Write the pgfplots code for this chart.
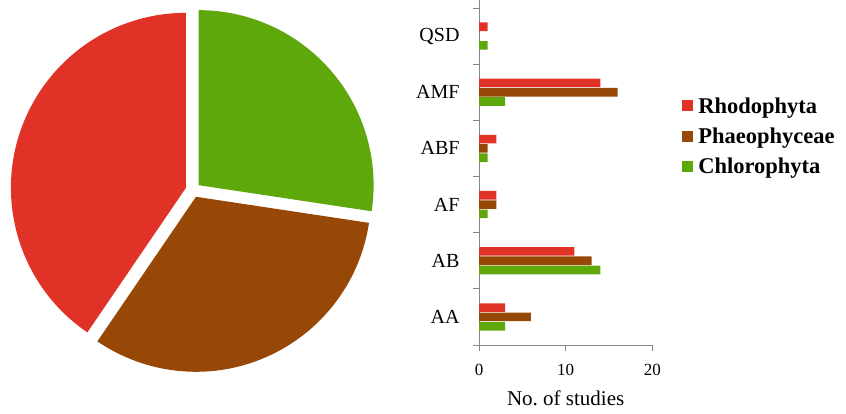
\documentclass[border=0pt]{standalone}
\usepackage{fontspec}
\setmainfont{Liberation Serif}
\usepackage{pgfplots}
\pgfplotsset{compat=1.18}
\usepackage{pgfplotstable}

\definecolor{cR}{RGB}{224,50,38}
\definecolor{cB}{RGB}{151,72,7}
\definecolor{cG}{RGB}{94,168,12}
\definecolor{axgray}{RGB}{134,134,134}

% studies per group (pie), clockwise from 12 o'clock
\def\nG{23}
\def\nB{27}
\def\nR{34}

\pgfplotstableread{
y  R  B  G
0  3  6  3
1  11 13 14
2  2  2  1
3  2  1  1
4  14 16 3
5  1  0  1
}\bars

\begin{document}
\begin{tikzpicture}
\useasboundingbox (0,0) rectangle (846pt,414pt);

\pgfmathsetmacro\tot{\nG+\nB+\nR}
\pgfmathsetmacro\aA{90}
\pgfmathsetmacro\aB{\aA-360*\nG/\tot}
\pgfmathsetmacro\aC{\aB-360*\nB/\tot}
\pgfmathsetmacro\aD{\aC-360*\nR/\tot}
\pgfmathsetmacro\mA{(\aA+\aB)/2}
\pgfmathsetmacro\mB{(\aB+\aC)/2}
\pgfmathsetmacro\mC{(\aC+\aD)/2}

% pie
\begin{axis}[
  at={(-7pt,24pt)}, anchor=south west, scale only axis,
  width=400pt, height=400pt,
  xmin=-200, xmax=200, ymin=-200, ymax=200,
  hide axis, clip=false,
]
\fill[cG] ({7.4*cos(\mA)},{7.4*sin(\mA)}) -- ++(\aA:175pt) arc[start angle=\aA, end angle=\aB, radius=175pt] -- cycle;
\fill[cB] ({7.4*cos(\mB)},{7.4*sin(\mB)}) -- ++(\aB:175pt) arc[start angle=\aB, end angle=\aC, radius=175pt] -- cycle;
\fill[cR] ({7.4*cos(\mC)},{7.4*sin(\mC)}) -- ++(\aC:175pt) arc[start angle=\aC, end angle=\aD, radius=175pt] -- cycle;
\end{axis}

% bars
\begin{axis}[
  at={(479pt,69pt)}, anchor=south west, scale only axis,
  width=173.3pt, height=337pt,
  xbar, bar width=8.6pt,
  xmin=0, xmax=20, ymin=-0.5, ymax=5.5,
  xtick={0,10,20},
  ytick={0,...,5}, yticklabels={AA,AB,AF,ABF,AMF,QSD},
  minor ytick={-0.5,0.5,...,5.5},
  axis x line*=bottom, axis y line*=left,
  axis line style={draw=axgray, line width=0.9pt},
  y axis line style={shorten >=-8pt},
  tick align=outside, major tick length=6pt, minor tick length=6pt,
  major y tick style={draw=none},
  minor y tick style={draw=axgray, line width=0.9pt},
  major x tick style={draw=axgray, line width=0.9pt},
  /pgf/number format/assume math mode=true,
  xticklabel style={font=\fontsize{17}{20}\selectfont, yshift=-10pt},
  yticklabel style={font=\fontsize{20}{24}\selectfont, xshift=-10pt},
  xlabel={No.\ of studies},
  xlabel style={font=\fontsize{21}{24}\selectfont, yshift=-8pt},
  legend style={at={(1.172,0.62)}, anchor=west, draw=none, fill=none,
    font=\bfseries\fontsize{22.5}{26}\selectfont, row sep=9pt, inner sep=0pt},
  legend cell align=left,
  legend image code/.code={\fill[#1] (0pt,-5.5pt) rectangle (11pt,5.5pt); \path (14pt,0pt);},
]
\addplot[draw=none, fill=cR, bar shift=9.3pt] table[x=R, y=y] {\bars};
\addplot[draw=none, fill=cB, bar shift=0pt] table[x=B, y=y] {\bars};
\addplot[draw=none, fill=cG, bar shift=-9.3pt] table[x=G, y=y] {\bars};
\legend{Rhodophyta, Phaeophyceae, Chlorophyta}
\end{axis}
\end{tikzpicture}
\end{document}
